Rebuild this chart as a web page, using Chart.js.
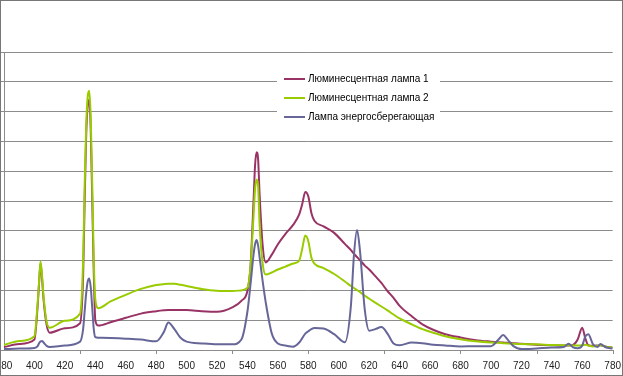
<!DOCTYPE html>
<html>
<head>
<meta charset="utf-8">
<script src="https://cdn.jsdelivr.net/npm/chart.js@4"></script>
<style>
  html, body { margin: 0; padding: 0; background: #fff; }
  #frame { position: relative; width: 623px; height: 376px; overflow: hidden; background: #fff; }
  #wrap { position: absolute; left: -20px; top: 0; width: 651px; height: 387px; }
  #border { position: absolute; left: 0; top: 0; right: 0; bottom: 0; border: 1px solid #777; pointer-events: none; }
</style>
</head>
<body>
<div id="frame">
  <div id="wrap"><canvas id="spectrum"></canvas></div>
  <div id="border"></div>
</div>
<script>
const wavelengths = [380, 390, 400, 402, 403, 404, 405, 406, 408, 410, 420, 430, 432, 433, 434, 435, 436, 437, 438, 439,
  440, 442, 450, 460, 470, 480, 485, 488, 492, 496, 500, 510, 520, 530, 536, 540, 542, 544, 545, 546,
  547, 548, 550, 552, 556, 560, 565, 570, 574, 576, 578, 580, 582, 584, 590, 597, 604, 608, 610, 612,
  614, 617, 620, 624, 628, 632, 636, 640, 648, 655, 662, 670, 680, 690, 700, 705, 708, 711, 715, 720,
  730, 740, 748, 751, 754, 757, 760, 762, 764, 767, 770, 772, 775, 780];

const lamp1 = [1.0, 2.0, 3.5, 14, 22, 29, 24, 17, 8.5, 5.8, 7.3, 9, 25, 50, 72, 82, 84, 74, 50, 26,
  10, 8.2, 9.3, 10.8, 12.2, 13, 13.3, 13.4, 13.4, 13.4, 13.4, 13, 12.8, 14.3, 16.5, 19.9, 28, 50, 62, 66.4,
  64, 52, 35, 29.4, 32, 35.5, 39, 42, 45.5, 49, 53, 51.5, 46, 43.4, 41.5, 39.3, 35.6, 33.5, 32.3, 31.2,
  30.1, 28.4, 27, 24.8, 22.5, 19.8, 17.5, 14.8, 11.3, 8.6, 6.8, 5.3, 4.2, 3.3, 2.8, 2.6, 2.5, 2.4, 2.3, 2.1,
  1.8, 1.6, 1.5, 1.5, 1.7, 3.5, 7.5, 4, 1.6, 1.4, 1.5, 1.6, 1.2, 0.8];

const lamp2 = [1.7, 3.0, 4.6, 15, 22.5, 29.7, 25, 18, 9.5, 7.5, 9.8, 12.2, 30, 55, 75, 85, 87, 78, 55, 30,
  17, 14, 16.3, 18.5, 20.5, 21.8, 22.1, 22.2, 22.2, 21.9, 21.5, 20.5, 19.9, 19.8, 20, 20.9, 28, 45, 54, 57.2,
  55, 42, 29, 25.3, 26, 27, 28, 29, 30, 34, 38.4, 36.5, 31, 29, 27.5, 25.5, 23, 21.5, 20.8, 20.1,
  19.4, 18.3, 17.2, 15.9, 14.6, 13.3, 11.9, 10.6, 8.6, 7.0, 5.8, 4.6, 3.6, 2.9, 2.5, 2.4, 2.3, 2.2, 2.1, 2.0,
  1.9, 1.7, 1.6, 1.6, 1.5, 1.5, 1.6, 1.8, 1.5, 1.2, 1.4, 1.6, 1.2, 0.8];

const lamp3 = [0.3, 0.5, 0.7, 1.2, 2.2, 2.9, 3, 2.5, 1.4, 1.0, 1.5, 2.8, 7, 13, 19, 23, 24, 21, 14, 7,
  4.3, 4.1, 4.0, 3.8, 3.5, 2.9, 6, 9.2, 7, 4.1, 2.8, 2.2, 1.9, 1.9, 3.5, 13, 22, 32, 35.5, 36.9,
  35, 31, 23, 16, 5.5, 2.2, 1.5, 1.1, 2.5, 4, 5.5, 6.3, 7, 7.4, 7.2, 5.3, 2.6, 15, 32, 40.3,
  33, 14, 6.5, 7, 7.7, 5.5, 2.2, 1.6, 2.5, 2.3, 1.8, 1.5, 1.2, 1.3, 1.3, 3.5, 5, 3.5, 1.2, 0.3,
  0.5, 0.8, 1.0, 2.1, 0.9, 0.6, 1.5, 4.5, 5.3, 2, 1, 2, 1, 0.5];

const seriesNames = ['Люминесцентная лампа 1', 'Люминесцентная лампа 2', 'Лампа энергосберегающая'];
const seriesColors = ['#993366', '#99CC00', '#666699'];

const toPoints = (values) => wavelengths.map((w, i) => ({ x: w, y: values[i] }));

const gridColor = '#8c8c8c';

// legend drawn inside the plot, on a white box, like the original sheet
const boxLegend = {
  id: 'boxLegend',
  afterDraw(chart) {
    const { ctx, chartArea } = chart;
    const left = chartArea.left + 273;
    const top = chartArea.top + 10;
    ctx.save();
    ctx.fillStyle = '#fff';
    ctx.fillRect(left, top, 163, 68);
    ctx.font = '10px "Liberation Sans", Arial, sans-serif';
    ctx.textBaseline = 'middle';
    chart.data.datasets.forEach((ds, i) => {
      const y = top + 17 + i * 19;
      ctx.strokeStyle = ds.borderColor;
      ctx.lineWidth = 2;
      ctx.beginPath();
      ctx.moveTo(left + 7, y);
      ctx.lineTo(left + 28, y);
      ctx.stroke();
      ctx.fillStyle = '#000';
      ctx.fillText(ds.label, left + 31, y);
    });
    ctx.restore();
  }
};

// small tick marks under the category axis, every 50 nm
const axisTicks = {
  id: 'axisTicks',
  afterDraw(chart) {
    const { ctx, scales } = chart;
    const x = scales.x;
    ctx.save();
    ctx.strokeStyle = gridColor;
    ctx.lineWidth = 1;
    for (let v = 430; v <= 780; v += 50) {
      const px = Math.round(x.getPixelForValue(v)) + 0.5;
      ctx.beginPath();
      ctx.moveTo(px, x.top);
      ctx.lineTo(px, x.top + 4);
      ctx.stroke();
    }
    ctx.restore();
  }
};

new Chart(document.getElementById('spectrum'), {
  type: 'line',
  data: {
    datasets: [lamp1, lamp2, lamp3].map((vals, i) => ({
      label: seriesNames[i],
      data: toPoints(vals),
      borderColor: seriesColors[i],
      backgroundColor: seriesColors[i],
      borderWidth: 2,
      pointRadius: 0,
      cubicInterpolationMode: 'monotone',
      order: 2 - i
    }))
  },
  options: {
    responsive: true,
    maintainAspectRatio: false,
    animation: false,
    layout: { padding: { left: 20, right: 11, top: 52, bottom: 5 } },
    plugins: {
      legend: { display: false },
      tooltip: { enabled: false }
    },
    scales: {
      x: {
        type: 'linear',
        min: 380,
        max: 780,
        grid: { display: false, drawTicks: false },
        border: { display: true, color: gridColor },
        ticks: {
          stepSize: 20,
          padding: 10,
          color: '#222',
          maxRotation: 0,
          autoSkip: false,
          font: { family: '"Liberation Sans", Arial, sans-serif', size: 10 }
        }
      },
      y: {
        min: 0,
        max: 100,
        grid: { color: gridColor, tickLength: 4 },
        border: { display: true, color: gridColor },
        ticks: { display: false, stepSize: 10 }
      }
    }
  },
  plugins: [boxLegend, axisTicks]
});
</script>
</body>
</html>
